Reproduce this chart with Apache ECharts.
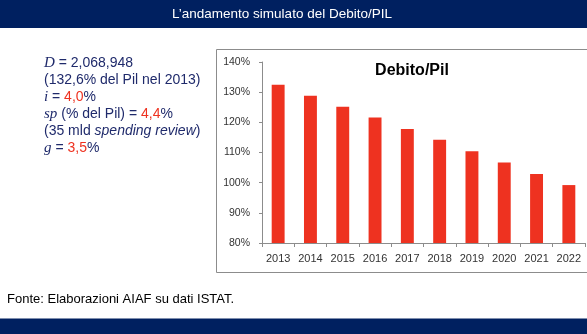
<!DOCTYPE html>
<html>
<head>
<meta charset="utf-8">
<script src="https://cdn.jsdelivr.net/npm/echarts@6/dist/echarts.min.js"></script>
<style>
html,body{margin:0;padding:0;background:#fff;}
#main{width:587px;height:334px;}
</style>
</head>
<body>
<div id="main"></div>
<script>
// ---- data ----
var years = ['2013','2014','2015','2016','2017','2018','2019','2020','2021','2022'];
var debtRatio = [132.5, 128.8, 125.2, 121.6, 117.8, 114.2, 110.4, 106.7, 102.9, 99.2];
var yTicks = [80, 90, 100, 110, 120, 130, 140];
var headerTitle = 'L\u2019andamento simulato del Debito/PIL';
var chartTitle = 'Debito/Pil';
var sourceNote = 'Fonte: Elaborazioni AIAF su dati ISTAT.';
var paramLines = [
  '{m|D} = 2,068,948',
  '(132,6% del Pil nel 2013)',
  '{m|i} = {r|4,0}%',
  '{m|sp} (% del Pil) = {r|4,4}%',
  '(35 mld {it|spending review})',
  '{m|g} = {r|3,5}%'
];

var navy = '#002060';
var textNavy = '#1f2a6b';
var red = '#ee3220';

var rich = {
  m: {fontFamily: '"Liberation Serif", "DejaVu Serif", serif', fontStyle: 'italic', fontSize: 15, fill: textNavy},
  r: {fontFamily: '"Liberation Sans", Arial, sans-serif', fontSize: 14, fill: red},
  it: {fontFamily: '"Liberation Sans", Arial, sans-serif', fontStyle: 'italic', fontSize: 14, fill: textNavy}
};

var graphics = [
  {type: 'rect', shape: {x: 0, y: 0, width: 587, height: 28}, style: {fill: navy}, z: 0, silent: true},
  {type: 'text', x: 282, y: 14, style: {text: headerTitle, fill: '#ffffff', font: '13.5px "Liberation Sans", Arial, sans-serif', textAlign: 'center', textVerticalAlign: 'middle'}},
  {type: 'rect', shape: {x: 216.5, y: 49.5, width: 380, height: 223}, style: {fill: 'none', stroke: '#8c8c8c', lineWidth: 1}, z: 0, silent: true},
  {type: 'rect', shape: {x: 0, y: 318.5, width: 587, height: 16}, style: {fill: navy}, z: 0, silent: true},
  {type: 'text', x: 7, y: 299, style: {text: sourceNote, fill: '#000000', font: '13px "Liberation Sans", Arial, sans-serif', textAlign: 'left', textVerticalAlign: 'middle'}}
];
paramLines.forEach(function (line, k) {
  graphics.push({
    type: 'text', x: 44, y: 62.7 + 17.1 * k,
    style: {text: line, rich: rich, fill: textNavy, font: '14px "Liberation Sans", Arial, sans-serif', textAlign: 'left', textVerticalAlign: 'middle'}
  });
});

var chart = echarts.init(document.getElementById('main'), null, {renderer: 'canvas'});
chart.setOption({
  animation: false,
  backgroundColor: '#ffffff',
  title: {
    text: chartTitle, left: 407, top: 58, textAlign: 'center',
    textStyle: {fontFamily: '"Liberation Sans", Arial, sans-serif', fontWeight: 'bold', fontSize: 16, color: '#000000'}
  },
  grid: {left: 262, top: 62, right: 2, bottom: 91, containLabel: false},
  xAxis: {
    type: 'category', data: years,
    axisLine: {lineStyle: {color: '#8c8c8c'}},
    axisTick: {show: true, length: 4, lineStyle: {color: '#8c8c8c'}},
    axisLabel: {color: '#333333', fontSize: 11, fontFamily: '"Liberation Sans", Arial, sans-serif', margin: 10}
  },
  yAxis: {
    type: 'value', min: yTicks[0], max: yTicks[yTicks.length - 1], interval: 10,
    axisLine: {show: true, lineStyle: {color: '#8c8c8c'}},
    axisTick: {show: true, length: 3, lineStyle: {color: '#8c8c8c'}},
    splitLine: {show: false},
    axisLabel: {color: '#333333', fontSize: 10.5, fontFamily: '"Liberation Sans", Arial, sans-serif', margin: 12,
      formatter: function (v) { return v + '%'; }}
  },
  series: [{
    type: 'bar', data: debtRatio, barCategoryGap: '60%',
    itemStyle: {color: red}
  }],
  graphic: graphics
});
</script>
</body>
</html>
